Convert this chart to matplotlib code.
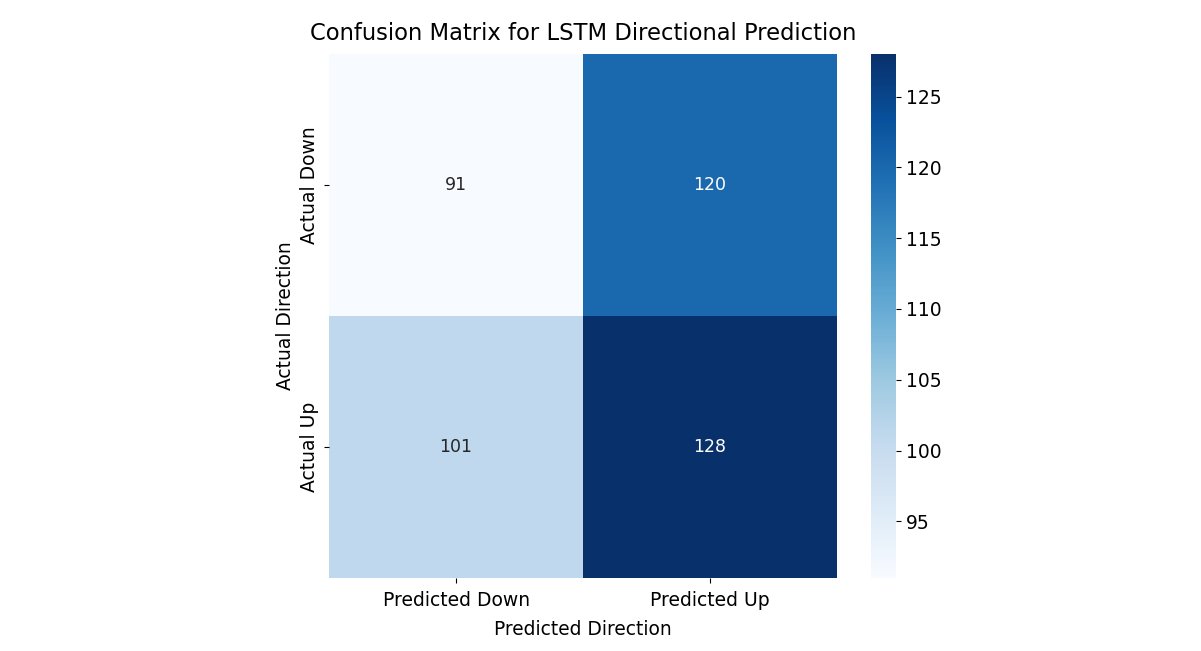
import numpy as np
import matplotlib
matplotlib.use("Agg")
import matplotlib.pyplot as plt
import seaborn as sns

row_labels = ["Actual Down", "Actual Up"]
col_labels = ["Predicted Down", "Predicted Up"]
counts_down = [91, 120]
counts_up = [101, 128]

cm = np.array([counts_down, counts_up])

fig = plt.figure(figsize=(12.01, 6.51), dpi=100)
ax = fig.add_axes([0.274, 0.112, 0.423, 0.805])
cax = fig.add_axes([0.725, 0.112, 0.021, 0.805])

sns.heatmap(cm, annot=True, fmt="d", cmap="Blues", ax=ax, cbar_ax=cax,
            xticklabels=col_labels, yticklabels=row_labels,
            annot_kws={"fontsize": 12.5})

ax.set_title("Confusion Matrix for LSTM Directional Prediction", fontsize=16.3, pad=10)
ax.set_xlabel("Predicted Direction", fontsize=13.4, labelpad=7)
ax.set_ylabel("Actual Direction", fontsize=13.4)
ax.tick_params(axis="both", labelsize=13.5)
ax.tick_params(axis="x", pad=6)
cax.tick_params(labelsize=13.5)
cax.set_yticks([95, 100, 105, 110, 115, 120, 125])

fig.savefig("out.png", dpi=100)
